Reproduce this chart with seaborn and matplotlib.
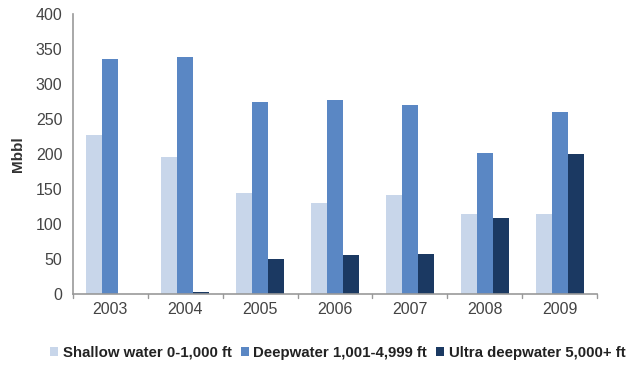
import matplotlib.pyplot as plt
import seaborn as sns
import pandas as pd

years = ['2003', '2004', '2005', '2006', '2007', '2008', '2009']
shallow = [227, 196, 145, 130, 141, 115, 115]
deep = [336, 339, 275, 277, 270, 201, 260]
ultra = [0, 3, 50, 56, 57, 109, 200]
series = ['Shallow water 0-1,000 ft', 'Deepwater 1,001-4,999 ft', 'Ultra deepwater 5,000+ ft']
colors = ['#c8d6ea', '#5a87c4', '#1b3962']

df = pd.DataFrame({
    'year': years * 3,
    'value': shallow + deep + ultra,
    'series': [series[0]] * 7 + [series[1]] * 7 + [series[2]] * 7,
})

sns.set_style('white')
plt.rcParams['font.family'] = ['Liberation Sans', 'DejaVu Sans']

fig = plt.figure(figsize=(6.4, 3.71), dpi=100)
ax = fig.add_axes([0.114, 0.2075, 0.819, 0.7545])
sns.barplot(data=df, x='year', y='value', hue='series', palette=colors,
            width=0.64, gap=0, saturation=1, linewidth=0, ax=ax, legend=True)

ax.set_ylim(0, 400)
ax.set_xlim(-0.5, 6.5)
ax.set_yticks(range(0, 401, 50))
ax.set_xlabel('')
ax.set_ylabel('Mbbl', fontsize=11, fontweight='bold', color='#333333', labelpad=8)
ax.tick_params(axis='both', labelsize=11.5, colors='#555555', length=4, width=1)
ax.tick_params(axis='x', length=0, pad=6)
for lbl in ax.get_xticklabels() + ax.get_yticklabels():
    lbl.set_color('#444444')
for s in ['top', 'right']:
    ax.spines[s].set_visible(False)
for s in ['left', 'bottom']:
    ax.spines[s].set_color('#999999')
    ax.spines[s].set_linewidth(1.2)
# small ticks between categories
for xb in [i + 0.5 for i in range(-1, 7)]:
    ax.plot([xb, xb], [0, -5], color='#999999', lw=1, clip_on=False)

handles, labels = ax.get_legend_handles_labels()
ax.legend(handles, labels, loc='center', bbox_to_anchor=(0.505, -0.21), ncol=3,
          frameon=False, handlelength=0.55, handleheight=0.55, handletextpad=0.3,
          columnspacing=0.6, prop={'weight': 'bold', 'size': 10.8})
for t in ax.get_legend().get_texts():
    t.set_color('#222222')

fig.savefig('out.png', dpi=100, facecolor='white')
